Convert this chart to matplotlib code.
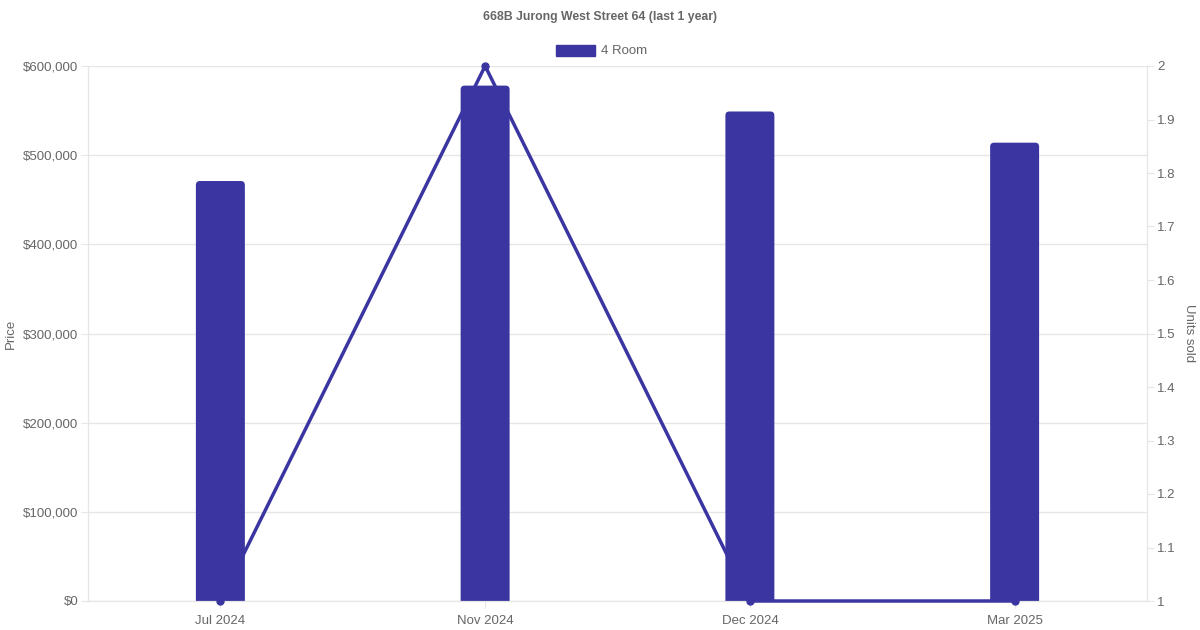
import matplotlib
matplotlib.use("Agg")
import matplotlib.pyplot as plt
from matplotlib.ticker import FuncFormatter, MultipleLocator
from matplotlib.patches import Rectangle, FancyBboxPatch

months = ["Jul 2024", "Nov 2024", "Dec 2024", "Mar 2025"]
prices = [471000, 578000, 549000, 514000]
units = [1, 2, 1, 1]
series_name = "4 Room"
title = "668B Jurong West Street 64 (last 1 year)"

color = "#3a35a0"
text_color = "#666666"
grid_color = "#e6e6e6"

plt.rcParams['font.family'] = ['Liberation Sans', 'DejaVu Sans']

fig = plt.figure(figsize=(12, 6.3), dpi=100)
ax = fig.add_axes([88/1200, 1 - 601/630, (1147-88)/1200, (601-66)/630])
ax2 = ax.twinx()

x = list(range(len(months)))
bw = 0.185
bars = ax.bar(x, prices, width=bw, color=color, zorder=2)
ax.set_xlim(-0.5, len(months) - 0.5)
ax.set_ylim(0, 600000)

# rounded top corners (bottom corners fall below the axis and are clipped)
dx = 1.0 / 265.0
dy = 600000 / 535.0
r_px = 4.0
for b in bars:
    b.set_visible(False)
    x0 = b.get_x()
    h = b.get_height()
    p = FancyBboxPatch((x0, -2 * r_px * dy), bw, h + 2 * r_px * dy,
                       boxstyle=f"round,pad=0,rounding_size={r_px*dx}",
                       mutation_aspect=dy / dx, facecolor=color,
                       edgecolor='none', zorder=2)
    ax.add_patch(p)

ax.yaxis.set_major_locator(MultipleLocator(100000))
ax.yaxis.set_major_formatter(FuncFormatter(lambda v, p: f"${v:,.0f}"))
ax.grid(axis='y', color=grid_color, linewidth=1, zorder=0)
ax.set_axisbelow(True)
ax.set_xticks(x)
ax.set_xticklabels(months)

ax2.plot(x, units, color=color, linewidth=2.5, marker='o', markersize=5, zorder=5, clip_on=False)
ax2.set_ylim(1, 2)
ax2.yaxis.set_major_locator(MultipleLocator(0.1))
ax2.yaxis.set_major_formatter(FuncFormatter(lambda v, p: f"{v:.1f}".rstrip('0').rstrip('.')))

for a in (ax, ax2):
    for s in a.spines.values():
        s.set_color(grid_color)
    a.spines['top'].set_visible(False)
    a.tick_params(colors=text_color, labelsize=9.5, length=5, color=grid_color)

ax.tick_params(axis='y', pad=2)
ax2.tick_params(axis='y', pad=2.5)
ax.set_ylabel("Price", color=text_color, fontsize=9.5, va='center')
ax.yaxis.set_label_coords(-(88 - 11) / 1059, 0.5)
ax2.set_ylabel("Units sold", color=text_color, fontsize=9.5, rotation=-90, va='center')
ax2.yaxis.set_label_coords(1 + (1189 - 1147) / 1059, 0.5)
ax.tick_params(axis='x', length=5, pad=5)

fig.text(0.5, 1 - 17/630, title, ha='center', va='center', fontsize=8.8,
         fontweight='bold', color=text_color)
# legend
fig.patches.append(Rectangle((556/1200, 1 - 56/630), 39/1200, 11/630,
                             transform=fig.transFigure, facecolor=color,
                             edgecolor=color, figure=fig))
fig.text(601/1200, 1 - 50.5/630, series_name, ha='left', va='center',
         fontsize=9.5, color=text_color)

fig.savefig("out.png", dpi=100)
